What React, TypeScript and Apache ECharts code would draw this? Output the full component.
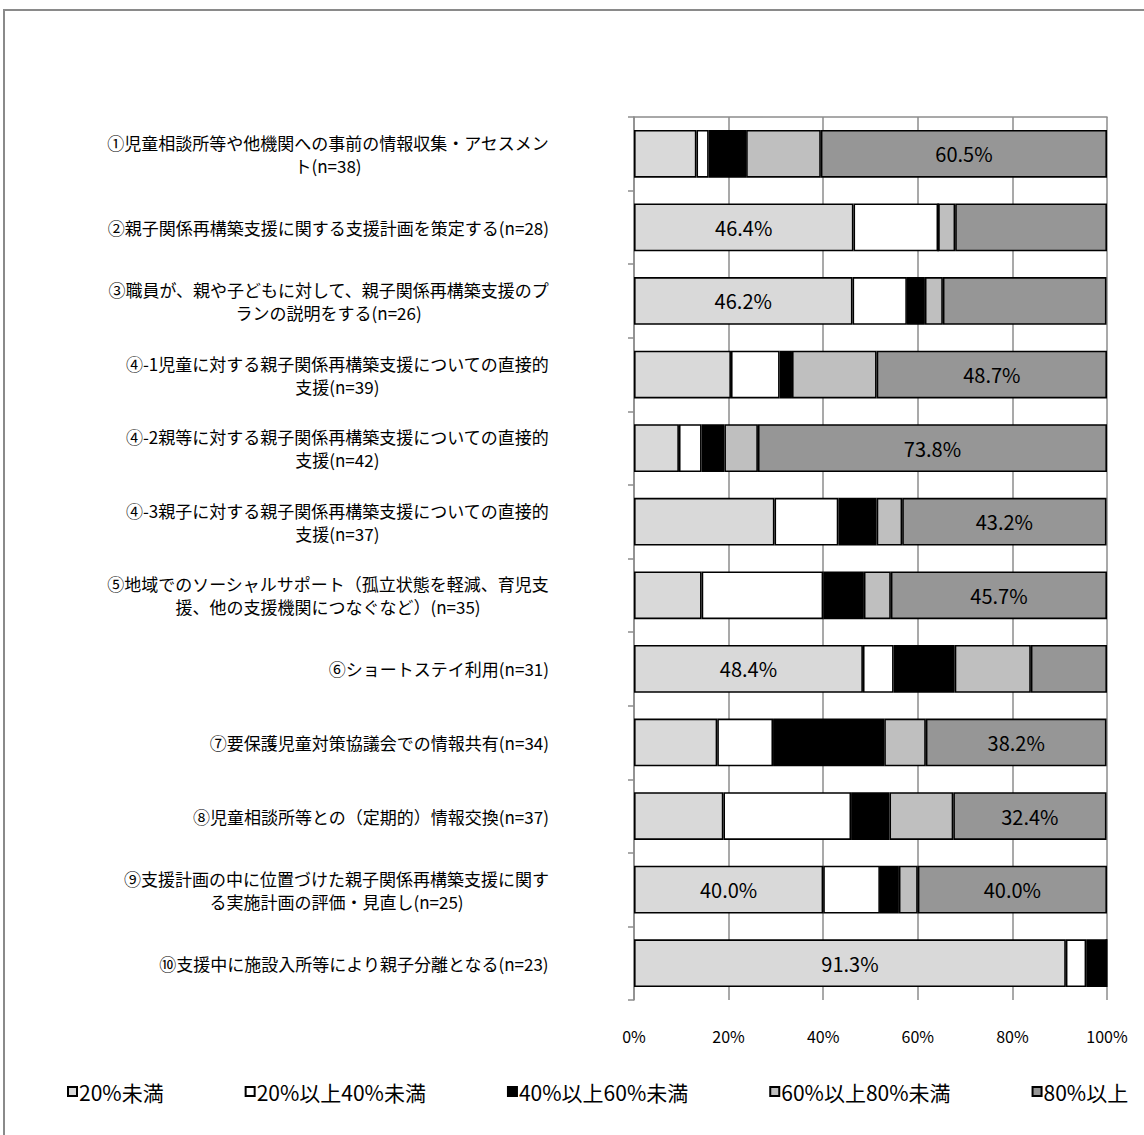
import React, { useEffect, useRef } from "react";
import * as echarts from "echarts";

const categories = [
  "①児童相談所等や他機関への事前の情報収集・アセスメン\nト(n=38)",
  "②親子関係再構築支援に関する支援計画を策定する(n=28)",
  "③職員が、親や子どもに対して、親子関係再構築支援のプ\nランの説明をする(n=26)",
  "④-1児童に対する親子関係再構築支援についての直接的\n支援(n=39)",
  "④-2親等に対する親子関係再構築支援についての直接的\n支援(n=42)",
  "④-3親子に対する親子関係再構築支援についての直接的\n支援(n=37)",
  "⑤地域でのソーシャルサポート（孤立状態を軽減、育児支\n援、他の支援機関につなぐなど）(n=35)",
  "⑥ショートステイ利用(n=31)",
  "⑦要保護児童対策協議会での情報共有(n=34)",
  "⑧児童相談所等との（定期的）情報交換(n=37)",
  "⑨支援計画の中に位置づけた親子関係再構築支援に関す\nる実施計画の評価・見直し(n=25)",
  "⑩支援中に施設入所等により親子分離となる(n=23)",
];

const seriesNames = ["20%未満", "20%以上40%未満", "40%以上60%未満", "60%以上80%未満", "80%以上"];

const under20 = [13.2, 46.4, 46.2, 20.5, 9.5, 29.7, 14.3, 48.4, 17.6, 18.9, 40.0, 91.3];
const from20to40 = [2.6, 17.9, 11.5, 10.3, 4.8, 13.5, 25.7, 6.5, 11.8, 27.0, 12.0, 4.3];
const from40to60 = [7.9, 0, 3.8, 2.6, 4.8, 8.1, 8.6, 12.9, 23.5, 8.1, 4.0, 4.3];
const from60to80 = [15.8, 3.6, 3.8, 17.9, 7.1, 5.4, 5.7, 16.1, 8.8, 13.5, 4.0, 0];
const over80 = [60.5, 32.1, 34.6, 48.7, 73.8, 43.2, 45.7, 16.1, 38.2, 32.4, 40.0, 0];

const xTicks = [0, 20, 40, 60, 80, 100];

const colors = ["#d9d9d9", "#ffffff", "#000000", "#bfbfbf", "#969696"];

const FONT = "'Noto Sans CJK JP', 'Noto Sans', sans-serif";

export default function App() {
  const ref = useRef<HTMLDivElement>(null);

  useEffect(() => {
    if (!ref.current) return;
    const chart = echarts.init(ref.current, undefined, { renderer: "svg" });
    const allSeries = [under20, from20to40, from40to60, from60to80, over80];
    const rowMax = categories.map((_, i) => Math.max(...allSeries.map((s) => s[i])));

    const series = allSeries.map((data, k) => ({
      name: seriesNames[k],
      type: "bar",
      stack: "total",
      barWidth: "65%",
      data,
      itemStyle: { color: colors[k], borderColor: "#000", borderWidth: 1.6 },
      label: {
        show: true,
        position: "inside",
        color: "#000",
        fontFamily: FONT,
        fontSize: 20,
        formatter: (p: any) => (p.value > 0 && p.value === rowMax[p.dataIndex] ? p.value.toFixed(1) + "%" : ""),
      },
    }));

    chart.setOption({
      animation: false,
      backgroundColor: "#fff",
      textStyle: { fontFamily: FONT },
      graphic: [
        {
          type: "rect",
          shape: { x: 4, y: 10, width: 1160, height: 1160 },
          style: { fill: "none", stroke: "#8a8a8a", lineWidth: 2 },
          silent: true,
          z: -10,
        },
      ],
      grid: { left: 634, right: 37, top: 117, bottom: 135, containLabel: false },
      legend: {
        top: 1076,
        left: 62,
        itemGap: 81,
        itemWidth: 9,
        itemHeight: 9,
        icon: "rect",
        textStyle: { fontFamily: FONT, fontSize: 21, color: "#000", padding: [0, 0, 0, -3] },
        data: seriesNames,
      },
      xAxis: [
        {
          type: "value",
          min: 0,
          max: 100,
          interval: 20,
          position: "bottom",
          axisLine: { show: false },
          axisTick: { show: false },
          splitLine: { show: true, lineStyle: { color: "#8c8c8c", width: 1.5 } },
          axisLabel: {
            margin: 28,
            fontSize: 16,
            color: "#000",
            fontFamily: FONT,
            formatter: (v: number) => (xTicks.includes(v) ? v + "%" : ""),
          },
        },
        {
          type: "value",
          min: 0,
          max: 100,
          interval: 20,
          position: "top",
          axisLine: { show: true, lineStyle: { color: "#8c8c8c", width: 1.5 } },
          axisTick: { show: false },
          axisLabel: { show: false },
          splitLine: { show: false },
        },
      ],
      yAxis: {
        type: "category",
        inverse: true,
        data: categories,
        axisLine: { show: true, lineStyle: { color: "#8c8c8c", width: 1.5 } },
        axisTick: { show: true, length: 6, lineStyle: { color: "#8c8c8c", width: 1.5 } },
        axisLabel: {
          margin: 85,
          fontSize: 17,
          color: "#000",
          fontFamily: FONT,
          lineHeight: 23,
          formatter: (v: string) => v.split("\n").map((l) => `{c|${l}}`).join("\n"),
          rich: {
            c: { align: "center", fontSize: 17, lineHeight: 23, fontFamily: FONT, color: "#000" },
          },
        },
      },
      series,
    });
    return () => chart.dispose();
  }, []);

  return (
    <div
      ref={ref}
      style={{ position: "absolute", left: 0, top: 0, width: 1144, height: 1135 }}
    />
  );
}
